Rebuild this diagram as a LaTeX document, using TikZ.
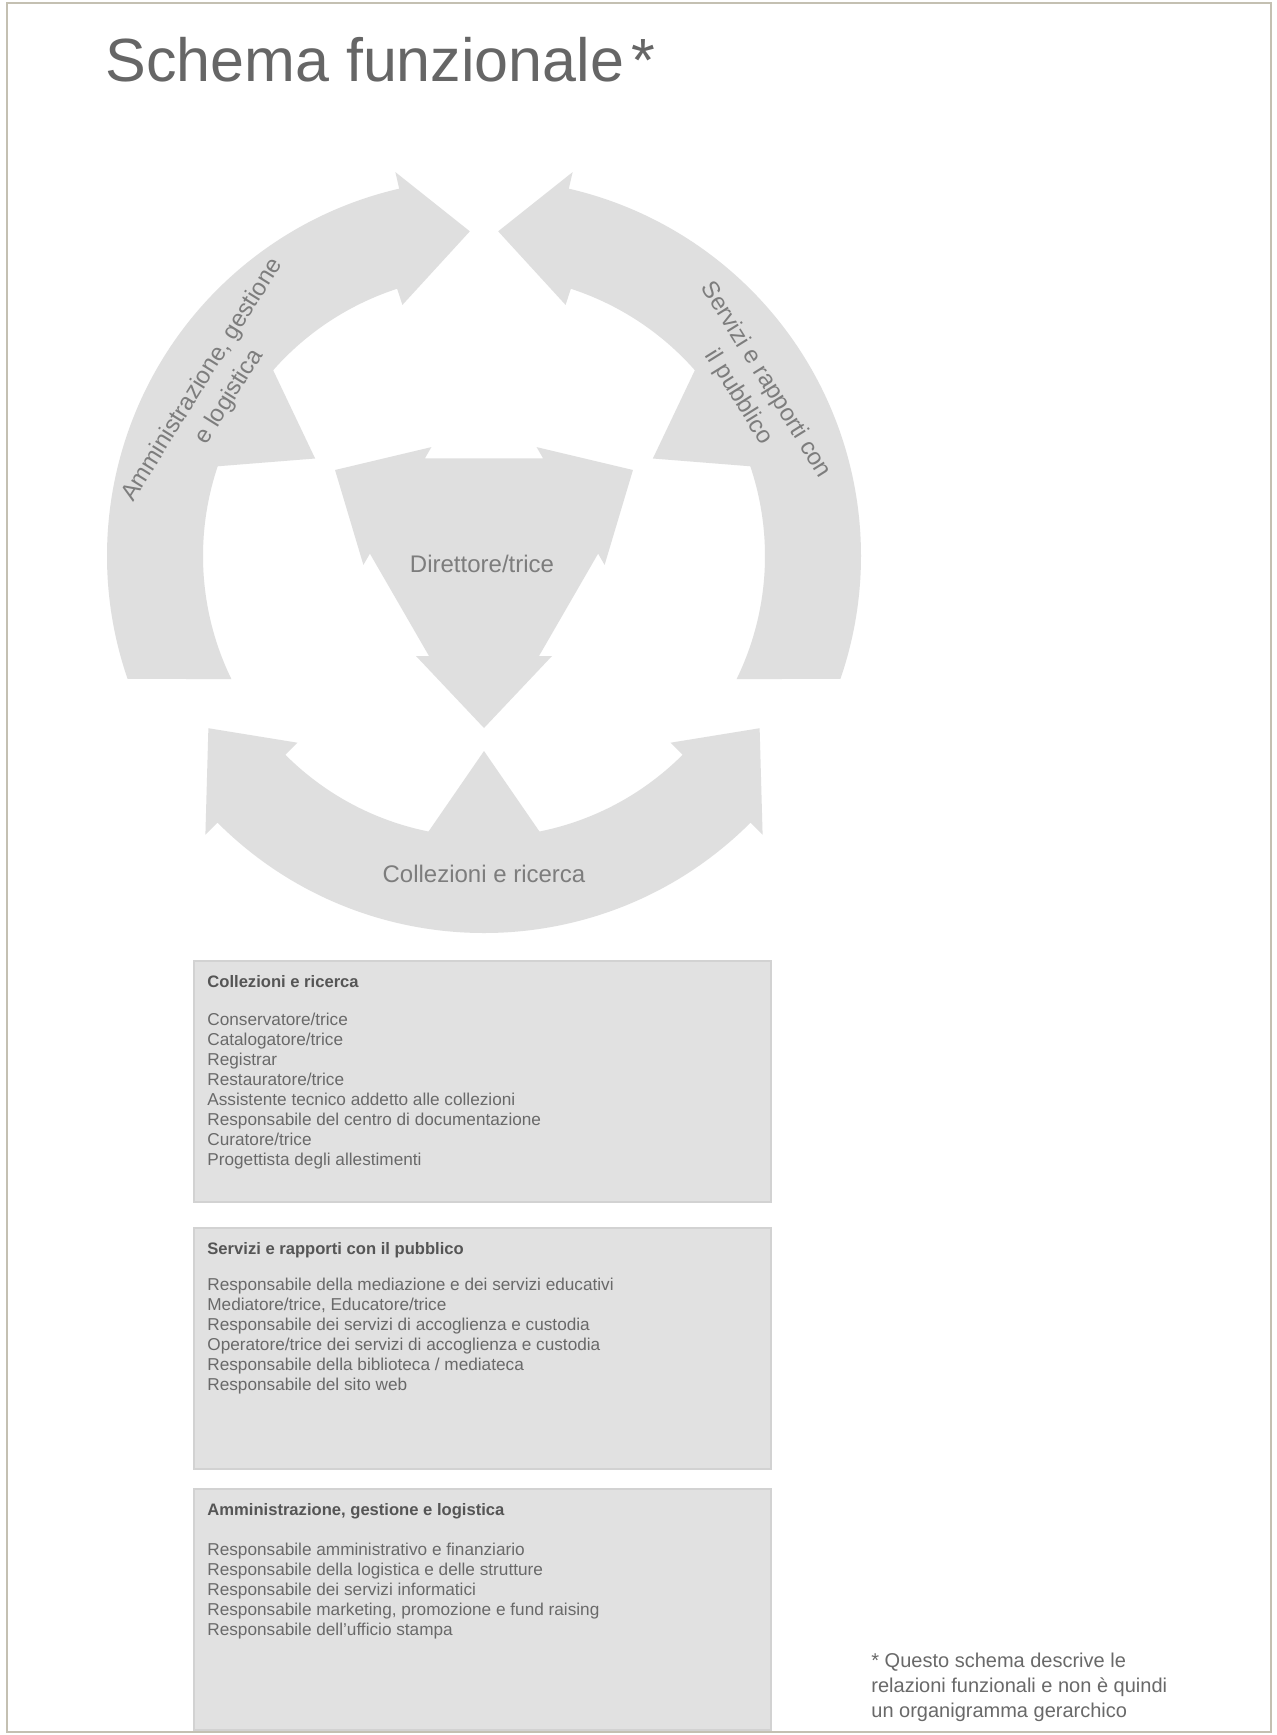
\documentclass[tikz,border=0pt]{standalone}
\usepackage{fontspec}
\setmainfont{Liberation Sans}
\usepackage{xcolor}
\usetikzlibrary{calc, positioning}

\definecolor{shapeGrey}{RGB}{223,223,223}
\definecolor{boxGrey}{RGB}{225,225,225}
\definecolor{boxEdge}{RGB}{210,210,210}
\definecolor{labelGrey}{RGB}{125,125,125}
\definecolor{itemGrey}{RGB}{105,105,105}
\definecolor{headGrey}{RGB}{85,85,85}
\definecolor{titleGrey}{RGB}{102,102,102}
\definecolor{frameTan}{RGB}{196,192,178}

\def\rIn{281}
\def\rOut{377}
\def\rMid{325}
\def\barb{17}
\def\boxLeft{194}
\def\boxRight{771}
\def\boxHeight{241}
\def\lineGap{20}

\tikzset{
    ring/.style={fill=shapeGrey},
    arcText/.style={text=labelGrey, font=\fontsize{12}{16}\selectfont, align=center, inner sep=0pt},
    roleBox/.style={fill=boxGrey, draw=boxEdge, line width=1pt},
    roleHead/.style={anchor=base west, inner sep=0pt, text=headGrey, font=\fontsize{8.3}{10}\selectfont\bfseries},
    roleItem/.style={anchor=base west, inner sep=0pt, text=itemGrey, font=\fontsize{8.6}{10}\selectfont},
}

\begin{document}
\begin{tikzpicture}[x=0.5pt, y=0.5pt]
    \useasboundingbox (0,0) rectangle (1276,-1735);
    \fill[white] (0,0) rectangle (1276,-1735);
    \draw[frameTan, line width=1pt] (7,-3) rectangle (1271,-1732);

    % Title
    \node[anchor=base west, inner sep=0pt, text=titleGrey, font=\fontsize{30.5}{36}\selectfont] (title) at (105,-81) {Schema funzionale\hspace{0.12em}*};

    % Draw ring of arrows round the centre
    \begin{scope}[shift={(484,-556)}]
        % left arc, head at the top
        \fill[ring] (206:\rIn) arc[start angle=206, end angle=108, radius=\rIn] -- (108:{\rIn-\barb}) -- (92.5:\rMid) -- (103:{\rOut+\barb}) -- (103:\rOut) arc[start angle=103, end angle=199, radius=\rOut] -- cycle;
        % right arc, head at the top
        \fill[ring] (-26:\rIn) arc[start angle=-26, end angle=72, radius=\rIn] -- (72:{\rIn-\barb}) -- (87.5:\rMid) -- (77:{\rOut+\barb}) -- (77:\rOut) arc[start angle=77, end angle=-19, radius=\rOut] -- cycle;
        % bottom arc, heads at both ends
        \fill[ring] (225:\rIn) arc[start angle=225, end angle=315, radius=\rIn] -- (315:{\rIn-\barb}) -- (328:\rMid) -- (315:{\rOut+\barb}) -- (315:\rOut) arc[start angle=315, end angle=225, radius=\rOut] -- (225:{\rOut+\barb}) -- (212:\rMid) -- (225:{\rIn-\barb}) -- cycle;

        % Draw heads pointing inwards
        \foreach \a in {30,150,270}
            \fill[ring] ({\a-13}:{\rIn+20}) -- (\a:195) -- ({\a+13}:{\rIn+20}) -- cycle;

        % Draw centre with three heads pointing out
        \fill[ring] ($(270:100)+(180:55)$) \foreach \p in {270,390,510} {
            -- ($(\p:100)+({\p-90}:55)$) -- ($(\p:100)+({\p-90}:68)$) -- (\p:172)
            -- ($(\p:100)+({\p+90}:68)$) -- ($(\p:100)+({\p+90}:55)$)
        } -- cycle;

        % Draw labels
        \node[arcText] (direction) at (-2,-8) {Direttore/trice};
        \node[arcText, rotate=58] (adminArc) at (148:316) {Amministrazione, gestione\\e logistica};
        \node[arcText, rotate=-58] (publicArc) at (32:316) {Servizi e rapporti con\\il pubblico};
        \node[arcText] (collectionArc) at (270:318) {Collezioni e ricerca};
    \end{scope}

    % Draw role boxes
    \foreach \top/\head [count=\k] in {961/{Collezioni e ricerca}, 1228/{Servizi e rapporti con il pubblico}, 1489/{Amministrazione, gestione e logistica}} {
        \draw[roleBox] (\boxLeft,-\top) rectangle (\boxRight,-\top-\boxHeight);
        \node[roleHead] (head\k) at (\boxLeft+13,-\top-26) {\head};
    }

    % Draw roles
    \foreach \role [count=\i from 0] in {Conservatore/trice, Catalogatore/trice, Registrar, Restauratore/trice, Assistente tecnico addetto alle collezioni, Responsabile del centro di documentazione, Curatore/trice, Progettista degli allestimenti}
        \node[roleItem] (collection\i) at (\boxLeft+13,-1025-\lineGap*\i) {\role};
    \foreach \role [count=\i from 0] in {Responsabile della mediazione e dei servizi educativi, {Mediatore/trice, Educatore/trice}, Responsabile dei servizi di accoglienza e custodia, Operatore/trice dei servizi di accoglienza e custodia, Responsabile della biblioteca / mediateca, Responsabile del sito web}
        \node[roleItem] (public\i) at (\boxLeft+13,-1290-\lineGap*\i) {\role};
    \foreach \role [count=\i from 0] in {Responsabile amministrativo e finanziario, Responsabile della logistica e delle strutture, Responsabile dei servizi informatici, {Responsabile marketing, promozione e fund raising}, Responsabile dell'ufficio stampa}
        \node[roleItem] (admin\i) at (\boxLeft+13,-1555-\lineGap*\i) {\role};

    % Footnote
    \node[anchor=north west, inner sep=0pt, align=left, text=itemGrey, font=\fontsize{10}{12.3}\selectfont] (footnote) at (871,-1653) {* Questo schema descrive le\\relazioni funzionali e non è quindi\\un organigramma gerarchico};
\end{tikzpicture}
\end{document}
